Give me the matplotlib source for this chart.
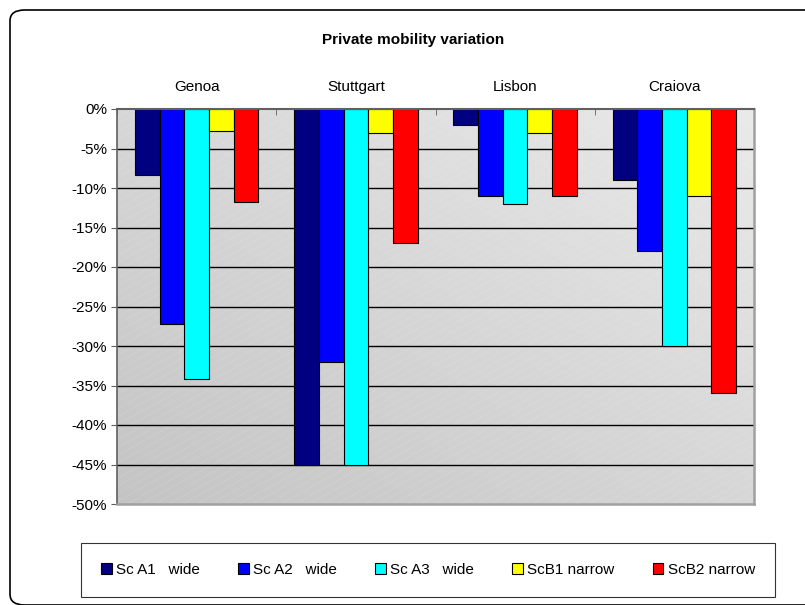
import numpy as np
import matplotlib
matplotlib.use("Agg")
import matplotlib.pyplot as plt
from matplotlib.patches import FancyBboxPatch
from matplotlib.ticker import FuncFormatter

plt.rcParams['font.family'] = ['Liberation Sans', 'DejaVu Sans']

# Private mobility variation per city and scenario (%)
cities = ['Genoa', 'Stuttgart', 'Lisbon', 'Craiova']
scenarios = ['Sc A1   wide', 'Sc A2   wide', 'Sc A3   wide', 'ScB1 narrow', 'ScB2 narrow']
sc_a1 = [-8.4, -45.0, -2.0, -9.0]
sc_a2 = [-27.2, -32.0, -11.0, -18.0]
sc_a3 = [-34.2, -45.0, -12.0, -30.0]
sc_b1 = [-2.8, -3.0, -3.0, -11.0]
sc_b2 = [-11.8, -17.0, -11.0, -36.0]
colors = ['#000080', '#0000ff', '#00ffff', '#ffff00', '#ff0000']

series = [sc_a1, sc_a2, sc_a3, sc_b1, sc_b2]

W, H = 805, 605
fig = plt.figure(figsize=(W / 100, H / 100), dpi=100)

# outer chart border with rounded corners (runs off the right edge)
fig.patches.append(FancyBboxPatch((10 / W, 1 - 605 / H), 815 / W, 595 / H,
                                  boxstyle='round,pad=0,rounding_size=0.018',
                                  transform=fig.transFigure, fill=False,
                                  edgecolor='black', linewidth=1.2))

ax = fig.add_axes([117 / W, 1 - 504 / H, 637 / W, 395 / H])
ax.set_xlim(-0.5, len(cities) - 0.5)
ax.set_ylim(-50, 0)

# grey gradient background, light at top right, darker at bottom left
gx, gy = np.meshgrid(np.linspace(0, 1, 200), np.linspace(0, 1, 200))
level = (196 + 38 * 0.5 * (gx + gy)) / 255
img = np.dstack([level, level, level])
ax.imshow(img, extent=[0, 1, 0, 1], transform=ax.transAxes, origin='lower',
          aspect='auto', zorder=0)

# faint diagonal texture lines
slope = 0.55
for x0 in np.arange(0, 637 + 395 / slope + 14, 14):
    xs = np.array([x0 - 395 / slope, x0])
    ys = np.array([0, 395])
    ax.plot(xs / 637, ys / 395, color='white', alpha=0.15, lw=0.5,
            transform=ax.transAxes, zorder=0.5)

for yv in np.arange(-45, 0, 5):
    ax.axhline(yv, color='black', lw=1.0, zorder=1)

x = np.arange(len(cities))
group = 0.775
bw = group / len(series)
for i, (vals, col, name) in enumerate(zip(series, colors, scenarios)):
    ax.bar(x - group / 2 + bw * (i + 0.5), vals, width=bw, color=col,
           edgecolor='black', linewidth=0.8, label=name, zorder=2)

ax.yaxis.set_major_formatter(FuncFormatter(lambda v, p: f'{v:.0f}%'))
ax.set_yticks(np.arange(-50, 1, 5))
ax.tick_params(axis='y', direction='out', length=4, color='#606060',
               labelsize=11, pad=3)

ax.xaxis.tick_top()
ax.set_xticks(x)
ax.set_xticklabels(cities)
ax.set_xticks(np.arange(-0.5, len(cities), 1), minor=True)
ax.tick_params(axis='x', which='major', length=0, labelsize=11, pad=11)
ax.tick_params(axis='x', which='minor', direction='in', length=4,
               color='#606060')

ax.spines['top'].set_color('#606060')
ax.spines['top'].set_linewidth(1.5)
ax.spines['left'].set_color('#606060')
ax.spines['left'].set_linewidth(1.2)
for s in ['right', 'bottom']:
    ax.spines[s].set_color('#a0a0a0')
    ax.spines[s].set_linewidth(1.8)

fig.text(413 / W, 1 - 40 / H, 'Private mobility variation', ha='center',
         va='center', fontsize=11, fontweight='bold')

leg = fig.legend(*ax.get_legend_handles_labels(), loc='center', ncol=5,
                 bbox_to_anchor=(81 / W, 1 - 598 / H, 694 / W, 56 / H),
                 bbox_transform=fig.transFigure, mode='expand',
                 fontsize=11, frameon=True, fancybox=False,
                 handlelength=0.7, handleheight=0.7, handletextpad=0.3,
                 borderaxespad=0, borderpad=1.3)
leg.get_frame().set_edgecolor('black')
leg.get_frame().set_linewidth(0.8)

fig.savefig('out.png', dpi=100)
